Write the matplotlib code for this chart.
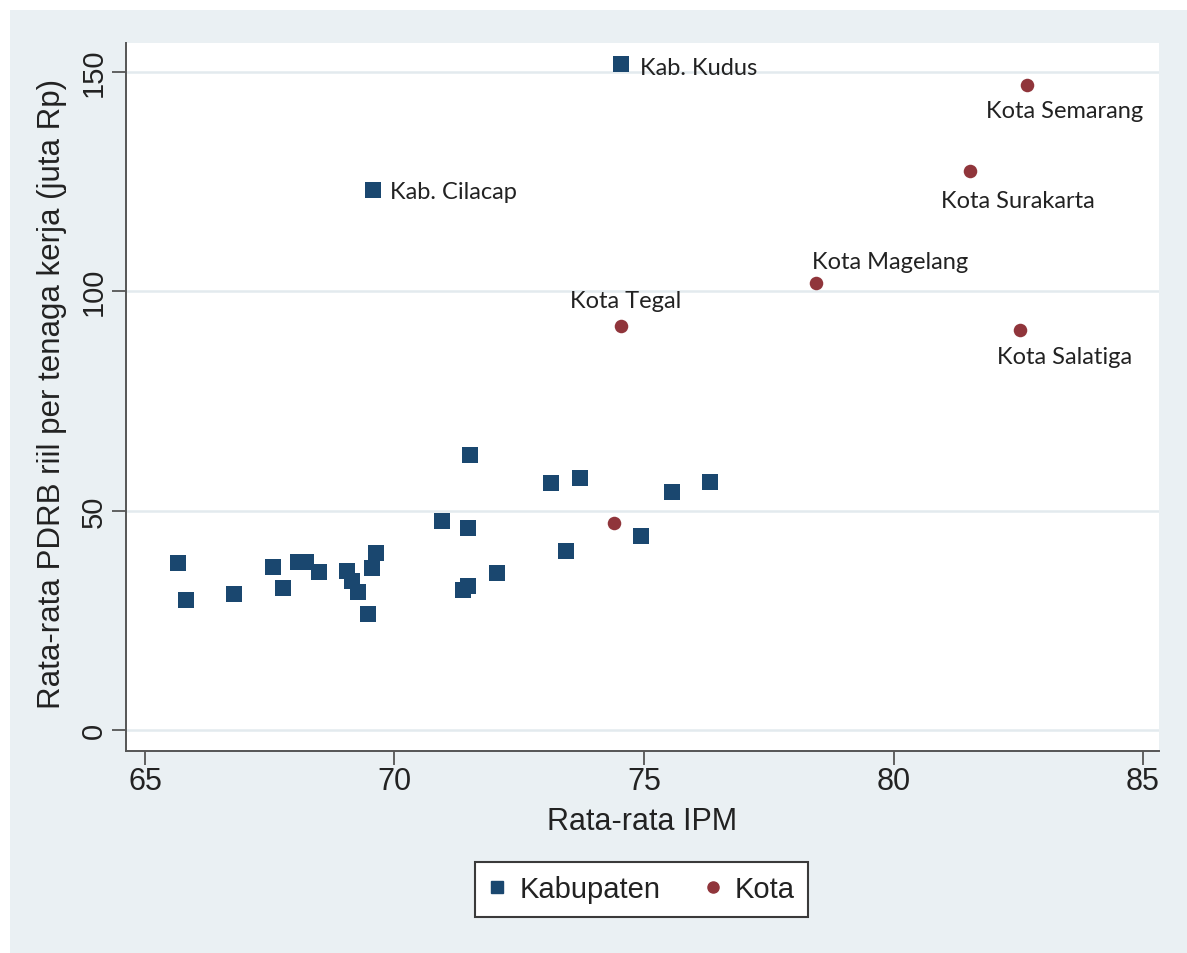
import matplotlib
matplotlib.use("Agg")
import matplotlib.pyplot as plt
from matplotlib.lines import Line2D
from matplotlib.patches import Rectangle

# average IPM vs average real GRDP per worker, regencies (kabupaten) and cities (kota)
kab_ipm = [74.54, 69.57, 65.67, 65.82, 66.78, 67.57, 67.77, 68.07, 68.22, 68.49,
           69.04, 69.14, 69.27, 69.47, 69.54, 69.63, 71.51, 73.13, 73.72, 75.57,
           76.32, 70.96, 71.48, 74.93, 73.44, 72.06, 71.48, 71.38]
kab_pdrb = [151.8, 123.1, 38.1, 29.6, 31.0, 37.1, 32.4, 38.2, 38.2, 35.9,
            36.3, 34.0, 31.4, 26.4, 36.9, 40.3, 62.7, 56.2, 57.4, 54.2,
            56.6, 47.6, 46.0, 44.1, 40.9, 35.7, 32.8, 31.8]
kab_label = ['Kab. Kudus', 'Kab. Cilacap'] + [''] * 26

kota_ipm = [82.67, 81.54, 78.44, 74.54, 82.53, 74.40]
kota_pdrb = [147.0, 127.4, 101.9, 92.1, 91.2, 47.1]
kota_label = ['Kota Semarang', 'Kota Surakarta', 'Kota Magelang', 'Kota Tegal',
              'Kota Salatiga', '']

x_ticks = [65, 70, 75, 80, 85]
y_ticks = [0, 50, 100, 150]

# label placement: (dx, dy) in pixels from the marker, horizontal alignment
label_pos = {
    'Kab. Kudus': (19, -3, 'left'),
    'Kab. Cilacap': (17, -2, 'left'),
    'Kota Semarang': (38, -25, 'center'),
    'Kota Surakarta': (48, -29, 'center'),
    'Kota Magelang': (74, 21, 'center'),
    'Kota Tegal': (5, 25, 'center'),
    'Kota Salatiga': (45, -27, 'center'),
}

navy = '#1a476f'
maroon = '#90353b'
bg = '#eaf0f3'
axis_col = '#555555'
txt_col = '#222222'
sans = ['Liberation Sans', 'DejaVu Sans']

W, H = 1187, 954
fig = plt.figure(figsize=(W / 100, H / 100), dpi=100)
fig.patch.set_facecolor('white')
fig.add_artist(Rectangle((10 / W, 0), 1, 1 - 11 / H, transform=fig.transFigure,
                         facecolor=bg, edgecolor='none', zorder=-10))

ax = fig.add_axes([126 / W, 1 - 752 / H, (1159 - 126) / W, (752 - 44) / H])
ax.set_facecolor('white')
ax.set_xlim(64.62, 85.32)
ax.set_ylim(-4.8, 156.6)

for s in ['top', 'right']:
    ax.spines[s].set_visible(False)
for s in ['left', 'bottom']:
    ax.spines[s].set_color(axis_col)
    ax.spines[s].set_linewidth(1.4)

ax.set_xticks(x_ticks)
ax.set_yticks(y_ticks)
ax.yaxis.grid(True, color='#e3eaee', linewidth=1.8)
ax.set_axisbelow(True)
ax.tick_params(axis='x', length=10, width=1.3, color=axis_col, labelsize=22,
               labelcolor=txt_col, pad=1)
ax.tick_params(axis='y', length=10, width=1.3, color=axis_col, labelsize=21,
               labelcolor=txt_col, pad=3, labelrotation=90)
for lbl in ax.get_xticklabels() + ax.get_yticklabels():
    lbl.set_fontfamily(sans)
for lbl in ax.get_yticklabels():
    lbl.set_va('center')

ax.scatter(kab_ipm, kab_pdrb, marker='s', s=140, color=navy, linewidths=0, zorder=3)
ax.scatter(kota_ipm, kota_pdrb, marker='o', s=95, color=maroon, linewidths=0, zorder=3)

for xs, ys, names in [(kab_ipm, kab_pdrb, kab_label), (kota_ipm, kota_pdrb, kota_label)]:
    for x, y, name in zip(xs, ys, names):
        if not name:
            continue
        dx, dy, ha = label_pos[name]
        ax.annotate(name, (x, y), xytext=(dx, dy), textcoords='offset pixels',
                    ha=ha, va='center', fontsize=17, family=['Lato', 'DejaVu Sans'],
                    color=txt_col, zorder=4)

fig.text(52 / W, 1 - 394 / H, 'Rata-rata PDRB riil per tenaga kerja (juta Rp)',
         rotation=90, ha='center', va='center', fontsize=22.5, family=sans, color=txt_col)
fig.text(642 / W, 1 - 822 / H, 'Rata-rata IPM', ha='center', va='center',
         fontsize=22, family=sans, color=txt_col)

handles = [
    Line2D([], [], marker='s', linestyle='none', color=navy, markersize=9, label='Kabupaten'),
    Line2D([], [], marker='o', linestyle='none', color=maroon, markersize=8, label='Kota'),
]
leg = fig.legend(handles=handles, loc='center', bbox_to_anchor=(641.5 / W, 1 - 890.5 / H),
                 ncol=2, frameon=True, fancybox=False, edgecolor='#3a3a3a',
                 facecolor='white', framealpha=1,
                 prop={'family': sans, 'size': 21}, handlelength=0.6,
                 handletextpad=0.45, columnspacing=1.5, borderpad=0.45, borderaxespad=0)
leg.get_frame().set_linewidth(1.5)
for t in leg.get_texts():
    t.set_color(txt_col)

fig.savefig('out.png', dpi=100)
